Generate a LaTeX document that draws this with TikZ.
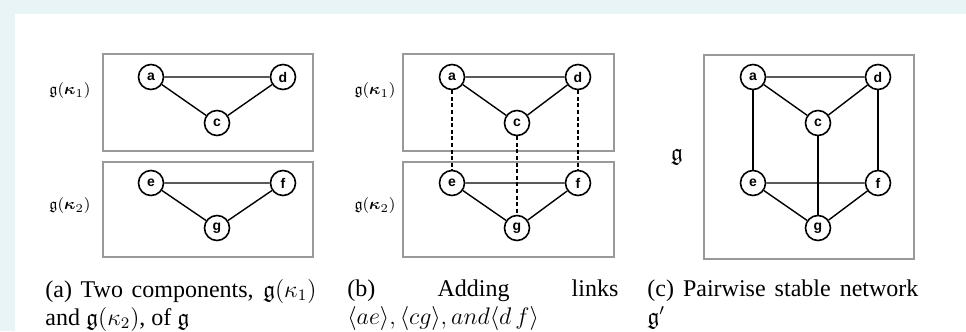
\documentclass[tikz,border=0pt]{standalone}
\usepackage{amsmath,amssymb,bm}
\usepackage{fontspec}
\setmainfont{Liberation Serif}
\setsansfont{Liberation Sans}
\usepackage{xcolor}
\definecolor{pagebg}{RGB}{232,244,246}
\begin{document}
\begin{tikzpicture}[x=0.5pt,y=-0.5pt,
  vtx/.style={draw,circle,line width=0.8pt,minimum size=12.5pt,inner sep=0pt,fill=white,font=\sffamily\bfseries\scriptsize},
  comp/.style={draw=gray!80,line width=0.9pt},
  link/.style={line width=0.7pt},
  newlink/.style={line width=0.7pt,dash pattern=on 2pt off 1.3pt},
  side/.style={font=\footnotesize},
  subcap/.style={anchor=north west,inner sep=0pt,text width=135.5pt,align=justify,font=\fontsize{12}{14}\selectfont}]
% page background
\fill[pagebg] (0,0) rectangle (966,331);
\fill[white] (15,14) rectangle (966,331);

% (a) two components
\draw[comp] (103,54) rectangle (313,151);
\draw[comp] (103,162) rectangle (313,257);
\node[side] (ka1) at (70,91) {$\mathfrak{g}(\bm{\kappa}_1)$};
\node[side] (ka2) at (70,206) {$\mathfrak{g}(\bm{\kappa}_2)$};
\node[vtx] (a1) at (151,77) {a};
\node[vtx] (d1) at (283,77) {d};
\node[vtx] (c1) at (217,123) {c};
\node[vtx] (e1) at (151,183) {e};
\node[vtx] (f1) at (283,183) {f};
\node[vtx] (g1) at (217,228) {g};
\draw[link] (a1) -- (d1) (a1) -- (c1) (c1) -- (d1);
\draw[link] (e1) -- (f1) (e1) -- (g1) (g1) -- (f1);
\node[subcap] (capa) at (45,279) {(a) Two components, $\mathfrak{g}(\kappa_1)$ and $\mathfrak{g}(\kappa_2)$, of $\mathfrak{g}$};

% (b) adding links
\draw[comp] (403,54) rectangle (614,151);
\draw[comp] (403,162) rectangle (614,257);
\node[side] (kb1) at (375,91) {$\mathfrak{g}(\bm{\kappa}_1)$};
\node[side] (kb2) at (375,206) {$\mathfrak{g}(\bm{\kappa}_2)$};
\node[vtx] (a2) at (452,77) {a};
\node[vtx] (d2) at (578,77) {d};
\node[vtx] (c2) at (517,123) {c};
\node[vtx] (e2) at (452,183) {e};
\node[vtx] (f2) at (578,183) {f};
\node[vtx] (g2) at (517,228) {g};
\draw[link] (a2) -- (d2) (a2) -- (c2) (c2) -- (d2);
\draw[link] (e2) -- (f2) (e2) -- (g2) (g2) -- (f2);
\draw[newlink] (a2) -- (e2) (c2) -- (g2) (d2) -- (f2);
\node[subcap] (capb) at (347,279) {(b) Adding links $\langle ae\rangle,\langle cg\rangle,and\langle d\,f\rangle$};

% (c) pairwise stable network
\draw[comp] (704,55) rectangle (914,259);
\node[font=\large] (gc) at (677,157) {$\mathfrak{g}$};
\node[vtx] (a3) at (753,77) {a};
\node[vtx] (d3) at (878,77) {d};
\node[vtx] (c3) at (818,123) {c};
\node[vtx] (e3) at (753,183) {e};
\node[vtx] (f3) at (878,183) {f};
\node[vtx] (g3) at (818,228) {g};
\draw[link] (a3) -- (d3) (a3) -- (c3) (c3) -- (d3);
\draw[link] (e3) -- (f3) (e3) -- (g3) (g3) -- (f3);
\draw[link] (a3) -- (e3) (c3) -- (g3) (d3) -- (f3);
\node[subcap] (capc) at (647,279) {(c) Pairwise stable network $\mathfrak{g}'$};
\end{tikzpicture}
\end{document}
